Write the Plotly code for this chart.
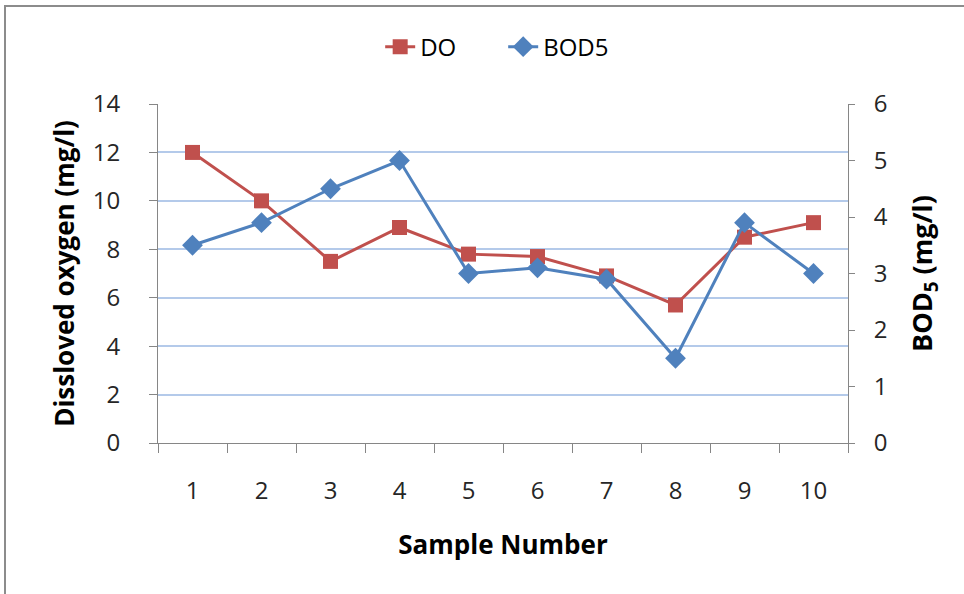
import plotly.graph_objects as go

samples = [1, 2, 3, 4, 5, 6, 7, 8, 9, 10]
do_vals = [12.0, 10.0, 7.5, 8.9, 7.8, 7.7, 6.9, 5.7, 8.5, 9.1]
bod5_vals = [3.5, 3.9, 4.5, 5.0, 3.0, 3.1, 2.9, 1.5, 3.9, 3.0]
left_ticks = [0, 2, 4, 6, 8, 10, 12, 14]
right_ticks = [0, 1, 2, 3, 4, 5, 6]

RED = "#C0504D"
BLUE = "#4F81BD"
AXIS = "#868686"
FONT = "Open Sans"
TICKCOL = "#262626"

fig = go.Figure()
fig.add_trace(go.Scatter(
    x=samples, y=do_vals, name="DO", mode="lines+markers",
    line=dict(color=RED, width=3),
    marker=dict(symbol="square", size=15, color=RED),
    yaxis="y",
))
fig.add_trace(go.Scatter(
    x=samples, y=bod5_vals, name="BOD5", mode="lines+markers",
    line=dict(color=BLUE, width=3),
    marker=dict(symbol="diamond", size=16, color=BLUE),
    yaxis="y2",
))

fig.update_layout(
    width=964, height=594,
    margin=dict(l=158, r=116, t=104, b=151, autoexpand=False),
    paper_bgcolor="white", plot_bgcolor="white",
    font=dict(family=FONT, color="#000000"),
    showlegend=True,
    legend=dict(orientation="h", x=0.322, xanchor="left", y=1.168, yanchor="middle",
                font=dict(size=24, color="#000000"), entrywidth=78,
                bgcolor="rgba(0,0,0,0)"),
    xaxis=dict(
        range=[0.5, 10.5], tickmode="array", tickvals=samples,
        ticktext=[str(s) for s in samples], ticks="",
        tickfont=dict(size=24, color=TICKCOL),
        ticklabelstandoff=26,
        showline=True, linecolor=AXIS, linewidth=1,
        showgrid=False, zeroline=False,
        minor=dict(ticks="outside", tick0=0.5, dtick=1, ticklen=9, tickcolor=AXIS, showgrid=False),
        title=dict(text="<b>Sample Number</b>", font=dict(size=26, color="#000000"), standoff=31),
    ),
    yaxis=dict(
        range=[0, 14], tickmode="array", tickvals=left_ticks,
        ticks="outside", ticklen=8, tickcolor=AXIS,
        tickfont=dict(size=24, color=TICKCOL),
        ticklabelstandoff=24,
        showline=True, linecolor=AXIS, linewidth=1,
        showgrid=True, gridcolor="#B4CAEA", gridwidth=2,
        zeroline=False,
        title=dict(text="<b>Dissloved oxygen (mg/l)</b>", font=dict(size=26, color="#000000"), standoff=10),
    ),
    yaxis2=dict(
        range=[0, 6], tickmode="array", tickvals=right_ticks,
        overlaying="y", side="right",
        ticks="outside", ticklen=6, tickcolor=AXIS,
        tickfont=dict(size=24, color=TICKCOL),
        ticklabelstandoff=14,
        showline=True, linecolor=AXIS, linewidth=1,
        showgrid=False, zeroline=False,
        title=dict(text="<b>BOD<sub>5</sub> (mg/l)</b>", font=dict(size=27, color="#000000"), standoff=26),
    ),
)

# outer chart frame (partially cut off at right/bottom as in the reference)
fig.add_shape(type="rect", xref="paper", yref="paper",
              x0=(5 - 158) / 690, x1=(975 - 158) / 690,
              y0=(443 - 610) / 339, y1=(443 - 6) / 339,
              line=dict(color="#8C8C8C", width=2), fillcolor="rgba(0,0,0,0)", layer="below")

fig.write_html("out.html")
